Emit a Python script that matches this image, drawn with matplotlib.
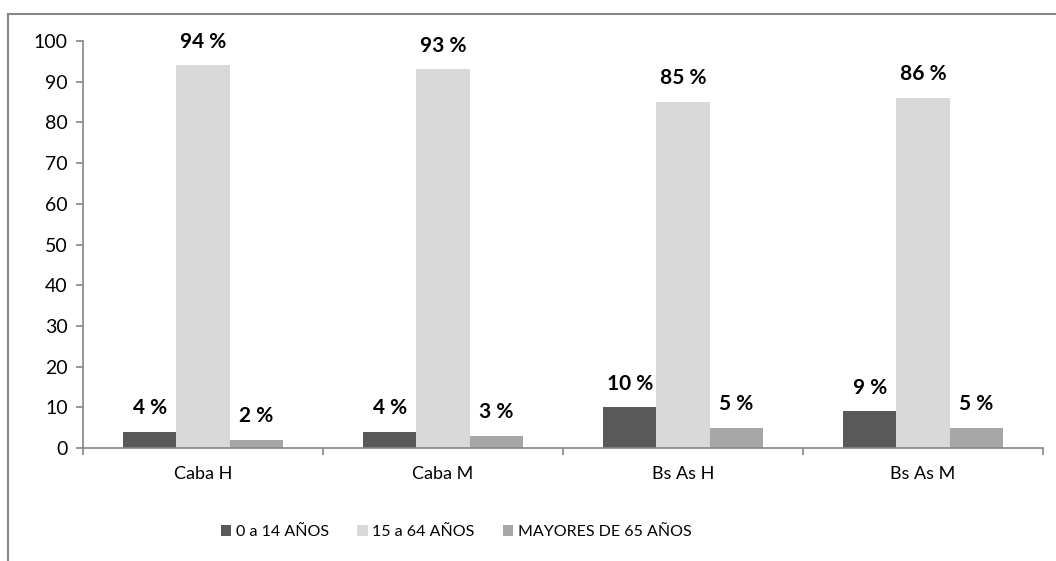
import numpy as np
import matplotlib.pyplot as plt
from matplotlib.patches import Rectangle

# data
categories = ['Caba H', 'Caba M', 'Bs As H', 'Bs As M']
series_names = ['0 a 14 AÑOS', '15 a 64 AÑOS', 'MAYORES DE 65 AÑOS']
ninos = [4, 4, 10, 9]
adultos = [94, 93, 85, 86]
mayores = [2, 3, 5, 5]
colors = ['#595959', '#d9d9d9', '#a6a6a6']

plt.rcParams['font.family'] = ['Lato', 'DejaVu Sans']

fig = plt.figure(figsize=(10.56, 5.61), dpi=100)
ax = fig.add_axes([0.0786, 0.2014, 0.9091, 0.7255])

# outer chart border (cut off right and bottom like the reference)
fig.patches.append(Rectangle((8 / 1056, -0.05), 1.2, 1 - 14 / 561 + 0.05,
                             transform=fig.transFigure, fill=False,
                             edgecolor='#868686', linewidth=1.5))

x = np.arange(len(categories))
w = 0.222
for i, (vals, name, c) in enumerate(zip([ninos, adultos, mayores], series_names, colors)):
    bars = ax.bar(x + (i - 1) * w, vals, w, color=c, label=name)
    for b, v in zip(bars, vals):
        ax.annotate(f'{v} %', (b.get_x() + b.get_width() / 2, v),
                    xytext=(0, 17), textcoords='offset points',
                    ha='center', va='center', fontsize=15, fontweight='bold')

ax.set_xlim(-0.5, 3.5)
ax.set_ylim(0, 100)
ax.set_yticks(range(0, 101, 10))
ax.set_xticks(x)
ax.set_xticklabels(categories)
ax.set_xticks(np.arange(-0.5, 4, 1), minor=True)
ax.tick_params(axis='x', which='major', length=0, pad=13, labelsize=13)
ax.tick_params(axis='x', which='minor', length=5, color='#868686', width=1.2)
ax.tick_params(axis='y', length=5, color='#868686', width=1.2, labelsize=14, pad=6)

for s in ['top', 'right']:
    ax.spines[s].set_visible(False)
for s in ['left', 'bottom']:
    ax.spines[s].set_color('#868686')
    ax.spines[s].set_linewidth(1.2)

fig.legend(loc='center', bbox_to_anchor=(0.432, 1 - 532 / 561), ncol=3,
           frameon=False, fontsize=11.5, handlelength=0.65, handleheight=0.65,
           handletextpad=0.3, columnspacing=1.75)

plt.savefig('out.png', dpi=100)
